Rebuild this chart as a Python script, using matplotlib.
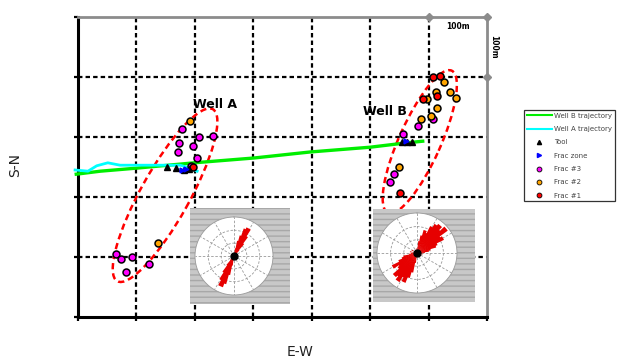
import matplotlib
matplotlib.use('Agg')
import matplotlib.pyplot as plt
from matplotlib.patches import Ellipse, Rectangle
from matplotlib.lines import Line2D
import numpy as np

# trajectories (metres)
well_b_x = [-3, 38, 99, 199, 301, 397, 500, 560, 590]
well_b_y = [238, 243, 248, 257, 265, 275, 283, 290, 293]
well_a_x = [-5, 17, 32, 51, 72, 101, 140, 175, 192, 204]
well_a_y = [245, 243, 252, 257, 253, 253, 253, 253, 248, 243]

# event locations
tool_x = [152, 168, 181, 190, 554, 563, 572]
tool_y = [250, 248, 245, 247, 292, 292, 292]
zone_x = [178, 185, 561]
zone_y = [245, 247, 293]
frac3_x = [178, 173, 171, 197, 207, 231, 204, 193, 65, 74, 92, 82, 122, 608, 582, 556, 541, 534]
frac3_y = [313, 290, 275, 285, 300, 302, 265, 252, 105, 97, 100, 75, 88, 330, 318, 305, 238, 225]
frac2_x = [192, 137, 626, 613, 637, 647, 597, 614, 604, 587, 549]
frac2_y = [327, 123, 392, 375, 375, 365, 363, 348, 335, 330, 250]
frac1_x = [197, 608, 620, 614, 591, 551]
frac1_y = [250, 400, 402, 368, 363, 207]

# rose diagrams (azimuth deg, relative length)
rose_a_dir = [12, 16, 20, 24, 28, 32, 36, 40, 192, 196, 200, 204, 208, 212, 216, 220]
rose_a_len = [0.2, 0.4, 0.55, 0.75, 0.8, 0.6, 0.4, 0.2, 0.25, 0.5, 0.75, 0.85, 0.7, 0.5, 0.3, 0.15]
rose_b_dir = [10, 15, 20, 25, 30, 35, 40, 45, 50, 55, 60, 65, 70, 75, 80, 85,
              190, 195, 200, 205, 210, 215, 220, 225, 230, 235, 240, 245, 250, 255, 260, 265,
              100, 130, 160, 280, 300, 330, 350]
rose_b_len = [0.3, 0.45, 0.6, 0.55, 0.75, 0.85, 0.9, 0.8, 0.95, 0.7, 0.75, 0.55, 0.5, 0.35, 0.3, 0.2,
              0.25, 0.5, 0.65, 0.8, 0.7, 0.85, 0.75, 0.8, 0.6, 0.55, 0.7, 0.5, 0.4, 0.35, 0.2, 0.15,
              0.15, 0.12, 0.1, 0.18, 0.15, 0.1, 0.12]

W, H = 621, 362
fig = plt.figure(figsize=(W / 100, H / 100), dpi=100)
ax = fig.add_axes([78 / W, 1 - 317 / H, 409 / W, 300 / H])
ax.set_xlim(0, 700)
ax.set_ylim(0, 500)

grid_kw = dict(color='black', lw=1.6, dashes=(2, 1.4), zorder=1)
for gx in [100, 200, 300, 400, 500, 600]:
    ax.axvline(gx, **grid_kw)
for gy in [100, 200, 300, 400]:
    ax.axhline(gy, **grid_kw)

for s in ['left', 'bottom']:
    ax.spines[s].set_linewidth(2.2)
for s in ['top', 'right']:
    ax.spines[s].set_color('#8c8c8c')
    ax.spines[s].set_linewidth(2)
ax.set_xticks([0, 100, 200, 300, 400, 500, 600, 700])
ax.set_yticks([0, 100, 200, 300, 400, 500])
ax.set_xticklabels([])
ax.set_yticklabels([])
ax.tick_params(length=3, width=1.6, direction='out')

# scale bar marks
ax.plot([600, 700, 700], [500, 500, 400], 'D', color='#8c8c8c', ms=4.5, clip_on=False, zorder=5)
ax.text(650, 492, '100m', fontsize=5.5, fontweight='bold', ha='center', va='top')
ax.text(712, 450, '100m', fontsize=5.5, fontweight='bold', ha='center', va='center', rotation=270)

ax.plot(well_b_x, well_b_y, color='#00ee00', lw=2.4, clip_on=False, zorder=3)
ax.plot(well_a_x, well_a_y, color='#00ffff', lw=2, clip_on=False, zorder=3)

ell_kw = dict(fill=False, edgecolor='red', lw=1.8, ls=(0, (2.5, 1.6)), zorder=2)
ax.add_patch(Ellipse((149, 203), 330, 83, angle=60.2, **ell_kw))
ax.add_patch(Ellipse((585, 292), 261, 71, angle=65.2, **ell_kw))

mk = dict(ls='none', mec='black', mew=1.1, ms=5, zorder=4)
ax.plot(frac3_x, frac3_y, 'o', mfc='#ff00ff', **mk)
ax.plot(frac2_x, frac2_y, 'o', mfc='#ffa500', **mk)
ax.plot(frac1_x, frac1_y, 'o', mfc='red', **mk)
ax.plot(tool_x, tool_y, '^', color='black', ms=4, ls='none', zorder=4)
ax.plot(zone_x, zone_y, '>', color='blue', ms=3.5, ls='none', zorder=4)

ax.text(235, 355, 'Well A', fontsize=9, fontweight='bold', ha='center', va='center')
ax.text(525, 342, 'Well B', fontsize=9, fontweight='bold', ha='center', va='center')

fig.text(15 / W, 1 - 165 / H, 'S-N', rotation=90, fontsize=10, ha='center', va='center', color='#222222')
fig.text(300 / W, 1 - 352 / H, 'E-W', fontsize=10, ha='center', va='center', color='#222222')


def rose(cx, cy, r, box, dirs, lens, w):
    bx0, by0, bx1, by1 = box
    fig.patches.append(Rectangle((bx0 / W, 1 - by1 / H), (bx1 - bx0) / W, (by1 - by0) / H,
                                 transform=fig.transFigure, facecolor='#c8c8c8',
                                 edgecolor='#a8a8a8', hatch='---', lw=0, zorder=6))
    pax = fig.add_axes([(cx - r) / W, 1 - (cy + r) / H, 2 * r / W, 2 * r / H], projection='polar', zorder=7)
    pax.set_theta_zero_location('N')
    pax.set_theta_direction(-1)
    pax.set_ylim(0, 1)
    pax.set_xticks(np.radians(np.arange(0, 360, 30)))
    pax.set_yticks([0.33, 0.66])
    pax.set_xticklabels([])
    pax.set_yticklabels([])
    pax.grid(color='#999999', lw=0.6, ls=(0, (3, 2)))
    pax.spines['polar'].set_color('#999999')
    pax.spines['polar'].set_linewidth(0.6)
    pax.bar(np.radians(dirs), lens, width=np.radians(w), color='#e60000', edgecolor='none', zorder=3)
    pax.plot(0, 0, 'o', color='black', ms=5, zorder=4)


rose(234, 256, 39, (190, 208, 290, 304), rose_a_dir, rose_a_len, 9)
rose(417, 253, 40, (373, 209, 475, 302), rose_b_dir, rose_b_len, 8)

handles = [
    Line2D([], [], color='#00ee00', lw=1.5),
    Line2D([], [], color='#00ffff', lw=1.5),
    Line2D([], [], marker='^', color='black', ls='none', ms=3),
    Line2D([], [], marker='>', color='blue', ls='none', ms=3),
    Line2D([], [], marker='o', mfc='#ff00ff', mec='black', mew=0.6, ls='none', ms=3.5),
    Line2D([], [], marker='o', mfc='#ffa500', mec='black', mew=0.6, ls='none', ms=3.5),
    Line2D([], [], marker='o', mfc='red', mec='black', mew=0.6, ls='none', ms=3.5),
]
labels = ['Well B trajectory', 'Well A trajectory', 'Tool', 'Frac zone', 'Frac #3', 'Frac #2', 'Frac #1']
leg = fig.legend(handles, labels, loc='upper left', bbox_to_anchor=(524 / W, 1 - 110 / H),
                 fontsize=5, frameon=True, fancybox=False, edgecolor='black',
                 handlelength=3.6, labelspacing=1.05, borderaxespad=0, borderpad=0.4, handletextpad=0.3)
leg.get_frame().set_linewidth(0.9)
for t in leg.get_texts():
    t.set_color('#444444')

fig.savefig('out.png', dpi=100)
